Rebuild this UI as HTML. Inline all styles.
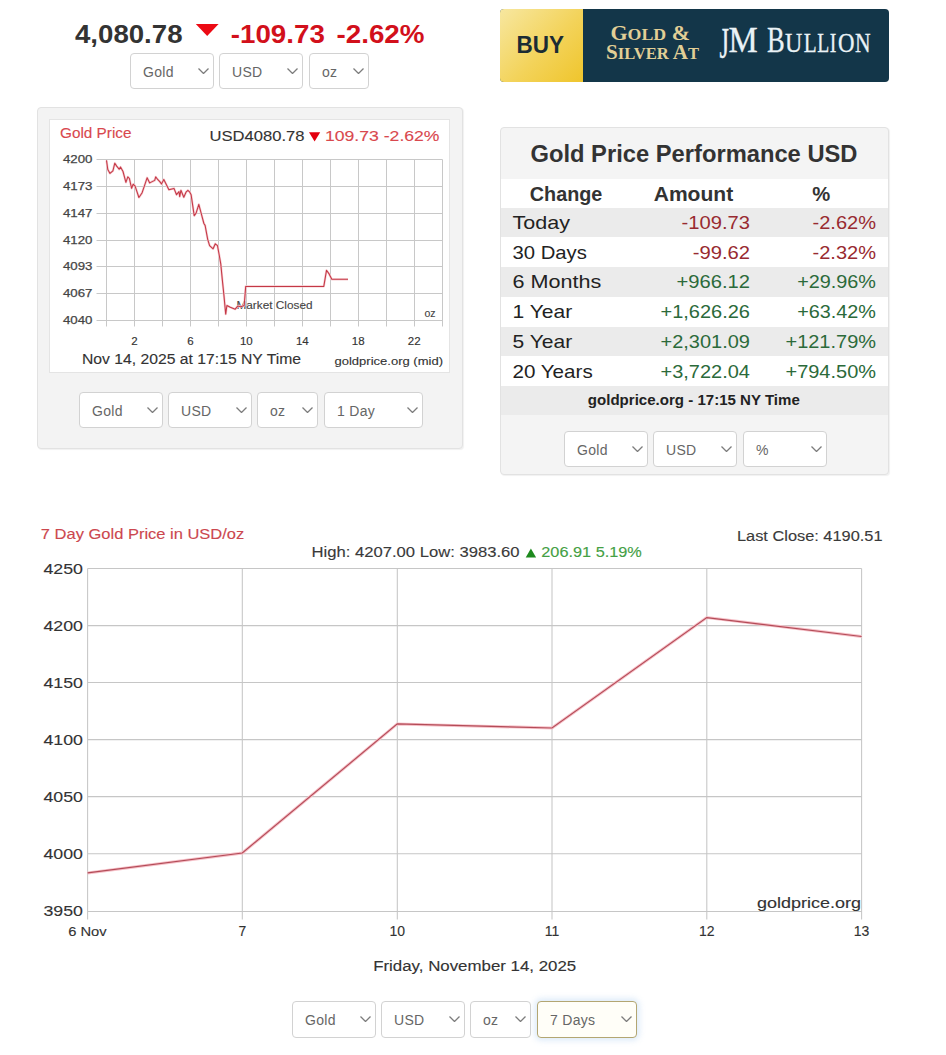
<!DOCTYPE html>
<html><head><meta charset="utf-8">
<style>
*{margin:0;padding:0;box-sizing:border-box}
html,body{width:946px;height:1055px;background:#fff;overflow:hidden;font-family:"Liberation Sans",sans-serif;position:relative}
.a{position:absolute;white-space:nowrap;line-height:1}
.sel{position:absolute;height:36px;border:1px solid #d2d2d2;border-radius:4px;background:#fff;color:#666;font-size:14px}
.sel span{position:absolute;left:12px;top:11px;line-height:1;letter-spacing:.3px}
.sel svg{position:absolute;right:4px;top:14px}
svg.full{position:absolute;left:0;top:0}
</style></head><body>
<div class="a" style="left:37px;top:107px;width:426px;height:342px;background:#f3f3f3;border:1px solid #e2e2e2;border-radius:4px;box-shadow:1px 1px 1px rgba(0,0,0,0.06)"></div>
<div class="a" style="left:49px;top:119px;width:401px;height:254px;background:#fff;border:1px solid #e4e4e4"></div>
<div class="a" style="left:500px;top:127px;width:389px;height:348px;background:#f4f4f4;border:1px solid #e2e2e2;border-radius:4px;box-shadow:1px 1px 1px rgba(0,0,0,0.06)"></div>
<div class="a" style="left:501px;top:179px;width:387px;height:29px;background:#fff"></div>
<div class="a" style="left:501px;top:207.70px;width:387px;height:29.75px;background:#ebebeb"></div>
<div class="a" style="left:501px;top:237.45px;width:387px;height:29.75px;background:#fff"></div>
<div class="a" style="left:501px;top:267.20px;width:387px;height:29.75px;background:#ebebeb"></div>
<div class="a" style="left:501px;top:296.95px;width:387px;height:29.75px;background:#fff"></div>
<div class="a" style="left:501px;top:326.70px;width:387px;height:29.75px;background:#ebebeb"></div>
<div class="a" style="left:501px;top:356.45px;width:387px;height:29.75px;background:#fff"></div>
<div class="a" style="left:501px;top:386.20px;width:387px;height:29.00px;background:#ebebeb"></div>
<div class="a" style="left:500px;top:9px;width:389px;height:73px;border-radius:4px;overflow:hidden;background:#133649">
  <div style="position:absolute;left:0;top:0;width:83px;height:73px;background:linear-gradient(135deg,#f7e7a0 0%,#f3d35a 55%,#efc52c 100%)"></div>
</div>
<div class="sel" style="left:130px;top:53px;width:84px;"><span>Gold</span><svg width="11" height="6"><polyline points="0.5,0.5 5.5,5.5 10.5,0.5" fill="none" stroke="#7c7c7c" stroke-width="1.3"/></svg></div>
<div class="sel" style="left:219px;top:53px;width:84px;"><span>USD</span><svg width="11" height="6"><polyline points="0.5,0.5 5.5,5.5 10.5,0.5" fill="none" stroke="#7c7c7c" stroke-width="1.3"/></svg></div>
<div class="sel" style="left:309px;top:53px;width:60px;"><span>oz</span><svg width="11" height="6"><polyline points="0.5,0.5 5.5,5.5 10.5,0.5" fill="none" stroke="#7c7c7c" stroke-width="1.3"/></svg></div>
<div class="sel" style="left:79px;top:392px;width:84px;"><span>Gold</span><svg width="11" height="6"><polyline points="0.5,0.5 5.5,5.5 10.5,0.5" fill="none" stroke="#7c7c7c" stroke-width="1.3"/></svg></div>
<div class="sel" style="left:168px;top:392px;width:84px;"><span>USD</span><svg width="11" height="6"><polyline points="0.5,0.5 5.5,5.5 10.5,0.5" fill="none" stroke="#7c7c7c" stroke-width="1.3"/></svg></div>
<div class="sel" style="left:257px;top:392px;width:61px;"><span>oz</span><svg width="11" height="6"><polyline points="0.5,0.5 5.5,5.5 10.5,0.5" fill="none" stroke="#7c7c7c" stroke-width="1.3"/></svg></div>
<div class="sel" style="left:324px;top:392px;width:99px;"><span>1 Day</span><svg width="11" height="6"><polyline points="0.5,0.5 5.5,5.5 10.5,0.5" fill="none" stroke="#7c7c7c" stroke-width="1.3"/></svg></div>
<div class="sel" style="left:564px;top:431px;width:84px;"><span>Gold</span><svg width="11" height="6"><polyline points="0.5,0.5 5.5,5.5 10.5,0.5" fill="none" stroke="#7c7c7c" stroke-width="1.3"/></svg></div>
<div class="sel" style="left:653px;top:431px;width:84px;"><span>USD</span><svg width="11" height="6"><polyline points="0.5,0.5 5.5,5.5 10.5,0.5" fill="none" stroke="#7c7c7c" stroke-width="1.3"/></svg></div>
<div class="sel" style="left:743px;top:431px;width:84px;"><span>%</span><svg width="11" height="6"><polyline points="0.5,0.5 5.5,5.5 10.5,0.5" fill="none" stroke="#7c7c7c" stroke-width="1.3"/></svg></div>
<div class="sel" style="left:292px;top:1001px;width:84px;height:37px"><span>Gold</span><svg width="11" height="6"><polyline points="0.5,0.5 5.5,5.5 10.5,0.5" fill="none" stroke="#7c7c7c" stroke-width="1.3"/></svg></div>
<div class="sel" style="left:381px;top:1001px;width:84px;height:37px"><span>USD</span><svg width="11" height="6"><polyline points="0.5,0.5 5.5,5.5 10.5,0.5" fill="none" stroke="#7c7c7c" stroke-width="1.3"/></svg></div>
<div class="sel" style="left:470px;top:1001px;width:61px;height:37px"><span>oz</span><svg width="11" height="6"><polyline points="0.5,0.5 5.5,5.5 10.5,0.5" fill="none" stroke="#7c7c7c" stroke-width="1.3"/></svg></div>
<div class="sel" style="left:537px;top:1001px;width:100px;height:37px;border-color:#b3a672;background:#fffef8;box-shadow:0 0 6px 2px rgba(170,205,240,0.45)"><span>7 Days</span><svg width="11" height="6"><polyline points="0.5,0.5 5.5,5.5 10.5,0.5" fill="none" stroke="#7c7c7c" stroke-width="1.3"/></svg></div>
<svg class="full" width="946" height="1055" viewBox="0 0 946 1055">
<text x="75" y="42.9" font-size="26" fill="#333" font-weight="bold" textLength="107.5" lengthAdjust="spacingAndGlyphs" font-family="Liberation Sans">4,080.78</text>
<polygon points="195.8,23.9 218.6,23.9 207.2,35.9" fill="#ec0a14"/>
<text x="230.8" y="42.9" font-size="26" fill="#d2101b" font-weight="bold" textLength="94" lengthAdjust="spacingAndGlyphs" font-family="Liberation Sans">-109.73</text>
<text x="336.5" y="42.9" font-size="26" fill="#d2101b" font-weight="bold" textLength="88" lengthAdjust="spacingAndGlyphs" font-family="Liberation Sans">-2.62%</text>
<text x="516.5" y="52.8" font-size="23.5" fill="#1b2c34" font-weight="bold" textLength="47.5" lengthAdjust="spacingAndGlyphs" font-family="Liberation Sans">BUY</text>
<text x="610.5" y="40.4" font-family="Liberation Serif" font-weight="bold" fill="#e2cf96" font-size="21" textLength="79.5" lengthAdjust="spacingAndGlyphs">G<tspan font-size="17">OLD</tspan> &amp;</text>
<text x="606" y="58.8" font-family="Liberation Serif" font-weight="bold" fill="#e2cf96" font-size="21" textLength="93" lengthAdjust="spacingAndGlyphs">S<tspan font-size="16.5">ILVER</tspan> A<tspan font-size="16.5">T</tspan></text>
<text x="728.4" y="52.3" font-family="Liberation Serif" fill="#eaf2f6" font-size="35" textLength="29.2" lengthAdjust="spacingAndGlyphs" stroke="#eaf2f6" stroke-width="0.3">M</text>
<text x="766.9" y="52.3" font-family="Liberation Serif" fill="#eaf2f6" font-size="35" textLength="17.7" lengthAdjust="spacingAndGlyphs" stroke="#eaf2f6" stroke-width="0.3">B</text>
<text x="784.9" y="52.3" font-family="Liberation Serif" fill="#eaf2f6" font-size="27" textLength="17.3" lengthAdjust="spacingAndGlyphs" stroke="#eaf2f6" stroke-width="0.3">U</text>
<text x="803.6999999999999" y="52.3" font-family="Liberation Serif" fill="#eaf2f6" font-size="27" textLength="12.9" lengthAdjust="spacingAndGlyphs" stroke="#eaf2f6" stroke-width="0.3">L</text>
<text x="817.1999999999999" y="52.3" font-family="Liberation Serif" fill="#eaf2f6" font-size="27" textLength="12.0" lengthAdjust="spacingAndGlyphs" stroke="#eaf2f6" stroke-width="0.3">L</text>
<text x="829.8" y="52.3" font-family="Liberation Serif" fill="#eaf2f6" font-size="27" textLength="6.6" lengthAdjust="spacingAndGlyphs" stroke="#eaf2f6" stroke-width="0.3">I</text>
<text x="837.9" y="52.3" font-family="Liberation Serif" fill="#eaf2f6" font-size="27" textLength="16.5" lengthAdjust="spacingAndGlyphs" stroke="#eaf2f6" stroke-width="0.3">O</text>
<text x="855.0" y="52.3" font-family="Liberation Serif" fill="#eaf2f6" font-size="27" textLength="15.6" lengthAdjust="spacingAndGlyphs" stroke="#eaf2f6" stroke-width="0.3">N</text>
<text x="0" y="0" font-family="Liberation Serif" fill="#eaf2f6" font-size="33" textLength="9.5" lengthAdjust="spacingAndGlyphs" stroke="#eaf2f6" stroke-width="0.3" transform="translate(719.5,58.3) scale(1,1.33)">J</text>
<path d="M96.5 159.50H442.50 M96.5 186.50H442.50 M96.5 213.50H442.50 M96.5 240.50H442.50 M96.5 266.50H442.50 M96.5 293.50H442.50 M96.5 320.50H442.50 M106.50 159.50V326.5 M134.50 159.50V326.5 M162.50 159.50V326.5 M190.50 159.50V326.5 M218.50 159.50V326.5 M246.50 159.50V326.5 M274.50 159.50V326.5 M302.50 159.50V326.5 M330.50 159.50V326.5 M358.50 159.50V326.5 M386.50 159.50V326.5 M414.50 159.50V326.5 M442.50 159.50V326.5" stroke="#c8c8c8" stroke-width="1" fill="none"/>
<text x="92.5" y="163.0" font-size="11.5" fill="#444" text-anchor="end" textLength="29.5" lengthAdjust="spacingAndGlyphs" font-family="Liberation Sans" stroke="#444" stroke-width="0.25">4200</text>
<text x="92.5" y="190.0" font-size="11.5" fill="#444" text-anchor="end" textLength="29.5" lengthAdjust="spacingAndGlyphs" font-family="Liberation Sans" stroke="#444" stroke-width="0.25">4173</text>
<text x="92.5" y="217.0" font-size="11.5" fill="#444" text-anchor="end" textLength="29.5" lengthAdjust="spacingAndGlyphs" font-family="Liberation Sans" stroke="#444" stroke-width="0.25">4147</text>
<text x="92.5" y="244.0" font-size="11.5" fill="#444" text-anchor="end" textLength="29.5" lengthAdjust="spacingAndGlyphs" font-family="Liberation Sans" stroke="#444" stroke-width="0.25">4120</text>
<text x="92.5" y="270.0" font-size="11.5" fill="#444" text-anchor="end" textLength="29.5" lengthAdjust="spacingAndGlyphs" font-family="Liberation Sans" stroke="#444" stroke-width="0.25">4093</text>
<text x="92.5" y="297.0" font-size="11.5" fill="#444" text-anchor="end" textLength="29.5" lengthAdjust="spacingAndGlyphs" font-family="Liberation Sans" stroke="#444" stroke-width="0.25">4067</text>
<text x="92.5" y="324.0" font-size="11.5" fill="#444" text-anchor="end" textLength="29.5" lengthAdjust="spacingAndGlyphs" font-family="Liberation Sans" stroke="#444" stroke-width="0.25">4040</text>
<text x="134.47" y="345.4" font-size="11.5" fill="#333" text-anchor="middle" stroke="#333" stroke-width="0.15" font-family="Liberation Sans">2</text>
<text x="190.41" y="345.4" font-size="11.5" fill="#333" text-anchor="middle" stroke="#333" stroke-width="0.15" font-family="Liberation Sans">6</text>
<text x="246.35" y="345.4" font-size="11.5" fill="#333" text-anchor="middle" stroke="#333" stroke-width="0.15" font-family="Liberation Sans">10</text>
<text x="302.28999999999996" y="345.4" font-size="11.5" fill="#333" text-anchor="middle" stroke="#333" stroke-width="0.15" font-family="Liberation Sans">14</text>
<text x="358.23" y="345.4" font-size="11.5" fill="#333" text-anchor="middle" stroke="#333" stroke-width="0.15" font-family="Liberation Sans">18</text>
<text x="414.16999999999996" y="345.4" font-size="11.5" fill="#333" text-anchor="middle" stroke="#333" stroke-width="0.15" font-family="Liberation Sans">22</text>
<text x="236.5" y="308.6" font-size="10.5" fill="#444" textLength="76" lengthAdjust="spacingAndGlyphs" stroke="#444" stroke-width="0.12" font-family="Liberation Sans">Market Closed</text>
<path d="M106.5,160.4 L107.8,169.6 L110,173.4 L112.9,170.9 L114.8,163.2 L116.7,166.1 L119.2,169.3 L120.5,167 L123,171.5 L125.9,182.3 L127.8,176.9 L129.4,178.5 L131.6,188.3 L133.2,184.2 L135.1,186.1 L138.9,197.5 L142,193 L144.6,185.4 L147.1,177.8 L149.7,182.9 L152.2,181.6 L154.7,180.4 L155.7,176.9 L157.9,179.7 L159.8,181.6 L161.5,184 L163.8,179.5 L166.3,184.6 L168.9,189.7 L174,188.4 L176.5,194.7 L179,191.6 L179.7,196.6 L180.9,190.3 L183.8,197.3 L186,192.2 L187.9,190.3 L189.8,192.2 L191.1,194.7 L194.2,215.7 L196.1,213.1 L198.8,204.4 L201,212.7 L203.9,223.5 L205.1,225.4 L207.7,239.3 L209.6,245.7 L213.1,248.8 L215.3,243.8 L217.5,245.7 L219.2,255 L220.8,264.2 L222.3,279.6 L223.9,295 L225.7,314.1 L226.9,305.5 L230.3,307.3 L235.2,309.2 L237.7,306.1 L240.8,306.7 L244.2,305.5 L245.7,286.4 L323.8,286.4 L326.5,270.3 L329.1,273.9 L331.8,279.3 L348,279.3" stroke="#f6cbd0" stroke-width="2.3" fill="none" stroke-linejoin="round"/>
<path d="M106.5,160.4 L107.8,169.6 L110,173.4 L112.9,170.9 L114.8,163.2 L116.7,166.1 L119.2,169.3 L120.5,167 L123,171.5 L125.9,182.3 L127.8,176.9 L129.4,178.5 L131.6,188.3 L133.2,184.2 L135.1,186.1 L138.9,197.5 L142,193 L144.6,185.4 L147.1,177.8 L149.7,182.9 L152.2,181.6 L154.7,180.4 L155.7,176.9 L157.9,179.7 L159.8,181.6 L161.5,184 L163.8,179.5 L166.3,184.6 L168.9,189.7 L174,188.4 L176.5,194.7 L179,191.6 L179.7,196.6 L180.9,190.3 L183.8,197.3 L186,192.2 L187.9,190.3 L189.8,192.2 L191.1,194.7 L194.2,215.7 L196.1,213.1 L198.8,204.4 L201,212.7 L203.9,223.5 L205.1,225.4 L207.7,239.3 L209.6,245.7 L213.1,248.8 L215.3,243.8 L217.5,245.7 L219.2,255 L220.8,264.2 L222.3,279.6 L223.9,295 L225.7,314.1 L226.9,305.5 L230.3,307.3 L235.2,309.2 L237.7,306.1 L240.8,306.7 L244.2,305.5 L245.7,286.4 L323.8,286.4 L326.5,270.3 L329.1,273.9 L331.8,279.3 L348,279.3" stroke="#c43846" stroke-width="1.05" fill="none" stroke-linejoin="round"/>
<text x="435.5" y="316.7" font-size="10.5" fill="#444" text-anchor="end" stroke="#444" stroke-width="0.12" font-family="Liberation Sans">oz</text>
<text x="60" y="138.3" font-size="14.5" fill="#d9484e" textLength="71.5" lengthAdjust="spacingAndGlyphs" stroke="#d9484e" stroke-width="0.12" font-family="Liberation Sans">Gold Price</text>
<text x="209.5" y="141.4" font-size="15" fill="#333" textLength="95" lengthAdjust="spacingAndGlyphs" stroke="#333" stroke-width="0.12" font-family="Liberation Sans">USD4080.78</text>
<polygon points="309,132.2 320.2,132.2 314.6,141.4" fill="#e3000f"/>
<text x="325" y="141.4" font-size="15" fill="#d9484e" textLength="114.5" lengthAdjust="spacingAndGlyphs" stroke="#d9484e" stroke-width="0.12" font-family="Liberation Sans">109.73 -2.62%</text>
<text x="82" y="363.7" font-size="14" fill="#333" textLength="219" lengthAdjust="spacingAndGlyphs" stroke="#333" stroke-width="0.12" font-family="Liberation Sans">Nov 14, 2025 at 17:15 NY Time</text>
<text x="334.5" y="364.5" font-size="11.5" fill="#333" textLength="108.5" lengthAdjust="spacingAndGlyphs" stroke="#333" stroke-width="0.12" font-family="Liberation Sans">goldprice.org (mid)</text>
<text x="530.5" y="161.5" font-size="23" fill="#333" font-weight="bold" textLength="327" lengthAdjust="spacingAndGlyphs" font-family="Liberation Sans">Gold Price Performance USD</text>
<text x="529.8" y="200.8" font-size="19.3" fill="#333" font-weight="bold" textLength="72.5" lengthAdjust="spacingAndGlyphs" font-family="Liberation Sans">Change</text>
<text x="653.7" y="200.8" font-size="19.3" fill="#333" font-weight="bold" textLength="79.5" lengthAdjust="spacingAndGlyphs" font-family="Liberation Sans">Amount</text>
<text x="812.3" y="200.8" font-size="19.3" fill="#333" font-weight="bold" textLength="18" lengthAdjust="spacingAndGlyphs" font-family="Liberation Sans">%</text>
<text x="512.5" y="228.8" font-size="19" fill="#222" textLength="57.5" lengthAdjust="spacingAndGlyphs" font-family="Liberation Sans">Today</text>
<text x="681.5" y="228.8" font-size="19" fill="#982a30" textLength="68.5" lengthAdjust="spacingAndGlyphs" font-family="Liberation Sans">-109.73</text>
<text x="812.5" y="228.8" font-size="19" fill="#982a30" textLength="63.5" lengthAdjust="spacingAndGlyphs" font-family="Liberation Sans">-2.62%</text>
<text x="512.5" y="258.55" font-size="19" fill="#222" textLength="74.3" lengthAdjust="spacingAndGlyphs" font-family="Liberation Sans">30 Days</text>
<text x="692.7" y="258.55" font-size="19" fill="#982a30" textLength="57.3" lengthAdjust="spacingAndGlyphs" font-family="Liberation Sans">-99.62</text>
<text x="812.5" y="258.55" font-size="19" fill="#982a30" textLength="63.5" lengthAdjust="spacingAndGlyphs" font-family="Liberation Sans">-2.32%</text>
<text x="512.5" y="288.3" font-size="19" fill="#222" textLength="88.8" lengthAdjust="spacingAndGlyphs" font-family="Liberation Sans">6 Months</text>
<text x="676.5" y="288.3" font-size="19" fill="#2b6a3a" textLength="73.5" lengthAdjust="spacingAndGlyphs" font-family="Liberation Sans">+966.12</text>
<text x="797.2" y="288.3" font-size="19" fill="#2b6a3a" textLength="78.8" lengthAdjust="spacingAndGlyphs" font-family="Liberation Sans">+29.96%</text>
<text x="512.5" y="318.05" font-size="19" fill="#222" textLength="59.7" lengthAdjust="spacingAndGlyphs" font-family="Liberation Sans">1 Year</text>
<text x="660.5" y="318.05" font-size="19" fill="#2b6a3a" textLength="89.5" lengthAdjust="spacingAndGlyphs" font-family="Liberation Sans">+1,626.26</text>
<text x="797.2" y="318.05" font-size="19" fill="#2b6a3a" textLength="78.8" lengthAdjust="spacingAndGlyphs" font-family="Liberation Sans">+63.42%</text>
<text x="512.5" y="347.8" font-size="19" fill="#222" textLength="59.7" lengthAdjust="spacingAndGlyphs" font-family="Liberation Sans">5 Year</text>
<text x="660.5" y="347.8" font-size="19" fill="#2b6a3a" textLength="89.5" lengthAdjust="spacingAndGlyphs" font-family="Liberation Sans">+2,301.09</text>
<text x="785.5" y="347.8" font-size="19" fill="#2b6a3a" textLength="90.5" lengthAdjust="spacingAndGlyphs" font-family="Liberation Sans">+121.79%</text>
<text x="512.5" y="377.55" font-size="19" fill="#222" textLength="80.2" lengthAdjust="spacingAndGlyphs" font-family="Liberation Sans">20 Years</text>
<text x="660.5" y="377.55" font-size="19" fill="#2b6a3a" textLength="89.5" lengthAdjust="spacingAndGlyphs" font-family="Liberation Sans">+3,722.04</text>
<text x="785.5" y="377.55" font-size="19" fill="#2b6a3a" textLength="90.5" lengthAdjust="spacingAndGlyphs" font-family="Liberation Sans">+794.50%</text>
<text x="587.8" y="404.5" font-size="14.8" fill="#222" font-weight="bold" textLength="212" lengthAdjust="spacingAndGlyphs" font-family="Liberation Sans">goldprice.org - 17:15 NY Time</text>
<path d="M87.6 568.50H861.60 M87.6 625.60H861.60 M87.6 682.50H861.60 M87.6 739.60H861.60 M87.6 796.60H861.60 M87.6 853.80H861.60 M87.6 911.40H861.60 M87.60 568.5V919.5 M242.30 568.5V919.5 M397.30 568.5V919.5 M552.00 568.5V919.5 M706.80 568.5V919.5 M861.60 568.5V919.5" stroke="#c6c6c6" stroke-width="1.05" fill="none"/>
<path d="M87.60,872.89 L242.30,853.01 L397.30,723.89 L552.00,728.01 L706.80,617.63 L861.60,636.47" stroke="#f6c0c8" stroke-width="3" fill="none"/>
<path d="M87.60,872.89 L242.30,853.01 L397.30,723.89 L552.00,728.01 L706.80,617.63 L861.60,636.47" stroke="#b44c58" stroke-width="1.15" fill="none"/>
<text x="83" y="573.5" font-size="15" fill="#333" text-anchor="end" textLength="39.5" lengthAdjust="spacingAndGlyphs" stroke="#333" stroke-width="0.12" font-family="Liberation Sans">4250</text>
<text x="83" y="630.6" font-size="15" fill="#333" text-anchor="end" textLength="39.5" lengthAdjust="spacingAndGlyphs" stroke="#333" stroke-width="0.12" font-family="Liberation Sans">4200</text>
<text x="83" y="687.5" font-size="15" fill="#333" text-anchor="end" textLength="39.5" lengthAdjust="spacingAndGlyphs" stroke="#333" stroke-width="0.12" font-family="Liberation Sans">4150</text>
<text x="83" y="744.6" font-size="15" fill="#333" text-anchor="end" textLength="39.5" lengthAdjust="spacingAndGlyphs" stroke="#333" stroke-width="0.12" font-family="Liberation Sans">4100</text>
<text x="83" y="801.6" font-size="15" fill="#333" text-anchor="end" textLength="39.5" lengthAdjust="spacingAndGlyphs" stroke="#333" stroke-width="0.12" font-family="Liberation Sans">4050</text>
<text x="83" y="858.8" font-size="15" fill="#333" text-anchor="end" textLength="39.5" lengthAdjust="spacingAndGlyphs" stroke="#333" stroke-width="0.12" font-family="Liberation Sans">4000</text>
<text x="83" y="916.4" font-size="15" fill="#333" text-anchor="end" textLength="39.5" lengthAdjust="spacingAndGlyphs" stroke="#333" stroke-width="0.12" font-family="Liberation Sans">3950</text>
<text x="68.2" y="935.9" font-size="13.5" fill="#333" textLength="38.5" lengthAdjust="spacingAndGlyphs" stroke="#333" stroke-width="0.12" font-family="Liberation Sans">6 Nov</text>
<text x="242.3" y="935.9" font-size="14" fill="#333" text-anchor="middle" stroke="#333" stroke-width="0.12" font-family="Liberation Sans">7</text>
<text x="397.3" y="935.9" font-size="14" fill="#333" text-anchor="middle" stroke="#333" stroke-width="0.12" font-family="Liberation Sans">10</text>
<text x="552.0" y="935.9" font-size="14" fill="#333" text-anchor="middle" stroke="#333" stroke-width="0.12" font-family="Liberation Sans">11</text>
<text x="706.8" y="935.9" font-size="14" fill="#333" text-anchor="middle" stroke="#333" stroke-width="0.12" font-family="Liberation Sans">12</text>
<text x="861.6" y="935.9" font-size="14" fill="#333" text-anchor="middle" stroke="#333" stroke-width="0.12" font-family="Liberation Sans">13</text>
<text x="40.8" y="538.8" font-size="15" fill="#cc474e" textLength="203.5" lengthAdjust="spacingAndGlyphs" stroke="#cc474e" stroke-width="0.12" font-family="Liberation Sans">7 Day Gold Price in USD/oz</text>
<text x="311.5" y="556.9" font-size="14" fill="#3a3a3a" textLength="208" lengthAdjust="spacingAndGlyphs" stroke="#3a3a3a" stroke-width="0.12" font-family="Liberation Sans">High: 4207.00 Low: 3983.60</text>
<polygon points="525.7,557.4 536.1,557.4 530.9,548.4" fill="#1e8a1e"/>
<text x="541.3" y="556.9" font-size="14" fill="#44a044" textLength="100.5" lengthAdjust="spacingAndGlyphs" stroke="#44a044" stroke-width="0.12" font-family="Liberation Sans">206.91 5.19%</text>
<text x="737" y="541.4" font-size="14" fill="#3a3a3a" textLength="145.5" lengthAdjust="spacingAndGlyphs" stroke="#3a3a3a" stroke-width="0.12" font-family="Liberation Sans">Last Close: 4190.51</text>
<text x="757" y="907.5" font-size="15" fill="#333" textLength="104" lengthAdjust="spacingAndGlyphs" stroke="#333" stroke-width="0.12" font-family="Liberation Sans">goldprice.org</text>
<text x="373.2" y="971.3" font-size="14" fill="#333" textLength="203" lengthAdjust="spacingAndGlyphs" stroke="#333" stroke-width="0.12" font-family="Liberation Sans">Friday, November 14, 2025</text>
</svg>
</body></html>
